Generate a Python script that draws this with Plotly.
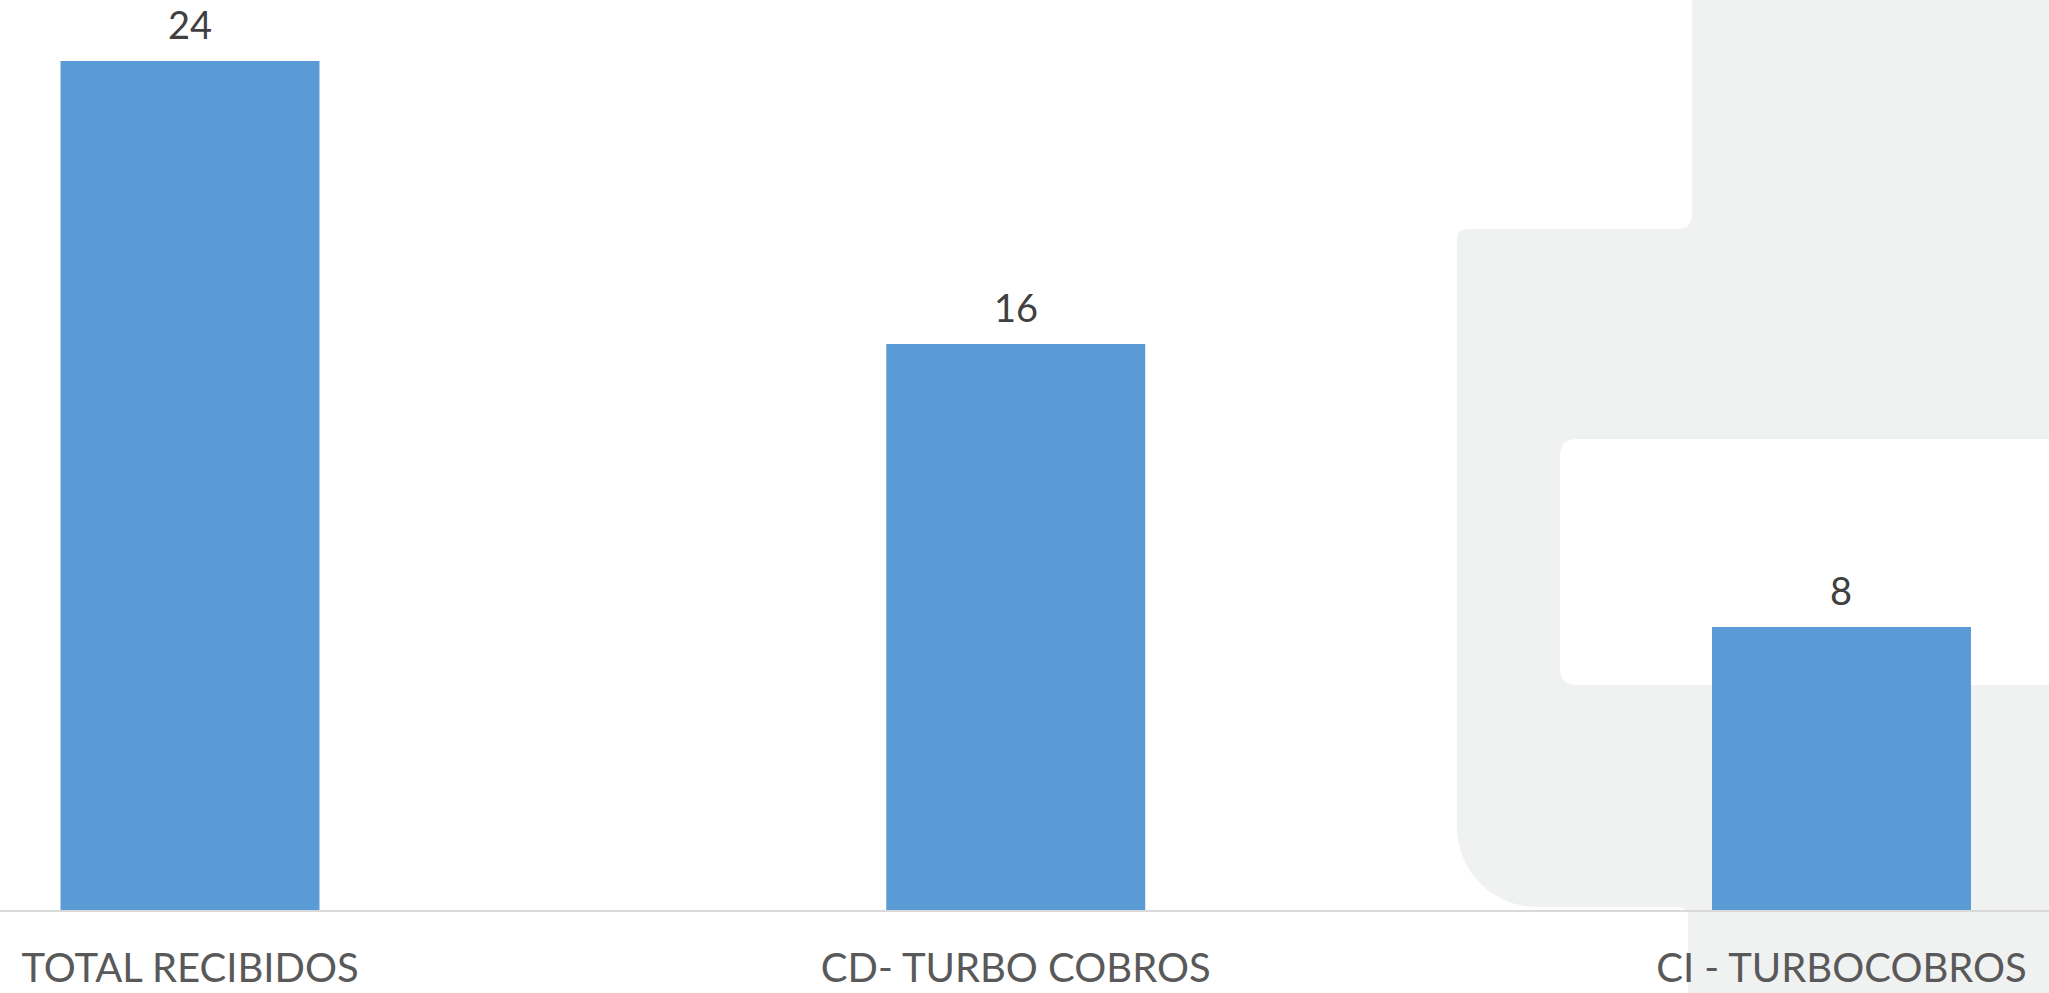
import plotly.graph_objects as go

categories = ["TOTAL RECIBIDOS", "CD- TURBO COBROS", "CI - TURBOCOBROS"]
values = [24, 16, 8]
value_labels = ["24", "16", "8"]

W, H = 2049, 993
PLOT_BOTTOM = 910  # pixel y of axis baseline

BAR_COLOR = "#5B9BD5"
BG_SHAPE = "#F0F1F1"


def px(x, y):
    """pixel -> paper coordinates (plot area spans full width, top 0..PLOT_BOTTOM)"""
    return x / W, (PLOT_BOTTOM - y) / PLOT_BOTTOM


def path(cmds):
    out = []
    for c in cmds:
        op, pts = c[0], c[1:]
        coords = []
        for (x, y) in pts:
            X, Y = px(x, y)
            coords.append(f"{X:.6f},{Y:.6f}")
        out.append(op + " " + " ".join(coords))
    return " ".join(out) + " Z"


outer = path([
    ("M", (1692, -20)),
    ("L", (1692, 214)),
    ("Q", (1692, 229), (1677, 229)),
    ("L", (1468, 229)),
    ("Q", (1457, 229), (1457, 240)),
    ("L", (1457, 827)),
    ("C", (1457, 871), (1493, 907), (1537, 907)),
    ("L", (1678, 907)),
    ("Q", (1688, 907), (1688, 917)),
    ("L", (1688, 1020)),
    ("L", (2100, 1020)),
    ("L", (2100, -20)),
])

inner = path([
    ("M", (2100, 439)),
    ("L", (1577, 439)),
    ("Q", (1560, 439), (1560, 456)),
    ("L", (1560, 668)),
    ("Q", (1560, 685), (1577, 685)),
    ("L", (2100, 685)),
])

fig = go.Figure()
fig.add_trace(go.Bar(
    x=categories,
    y=values,
    marker=dict(color=BAR_COLOR, line=dict(width=0)),
    hoverinfo="skip",
))

for c, v, t in zip(categories, values, value_labels):
    fig.add_annotation(
        x=c, y=v, text=t, showarrow=False,
        xref="x", yref="y", yanchor="bottom", yshift=12,
        font=dict(family="Lato, Open Sans, sans-serif", size=38, color="#404040"),
    )

fig.update_layout(
    width=W, height=H,
    margin=dict(l=0, r=0, t=0, b=H - PLOT_BOTTOM, pad=0),
    paper_bgcolor="white",
    plot_bgcolor="rgba(0,0,0,0)",
    showlegend=False,
    bargap=0.6864,
    shapes=[
        dict(type="path", path=outer, xref="paper", yref="paper",
             fillcolor=BG_SHAPE, line=dict(width=0), layer="below"),
        dict(type="path", path=inner, xref="paper", yref="paper",
             fillcolor="#FFFFFF", line=dict(width=0), layer="below"),
    ],
    xaxis=dict(
        range=[-0.2301, 2.2513],
        showgrid=False, zeroline=False,
        showline=True, linecolor="#D9D9D9", linewidth=2,
        ticks="", ticklabelstandoff=22,
        tickfont=dict(family="Lato, Open Sans, sans-serif", size=40, color="#595959"),
        automargin=False, fixedrange=True,
    ),
    yaxis=dict(
        range=[0, PLOT_BOTTOM / 35.375],
        visible=False, showgrid=False, zeroline=False,
        automargin=False, fixedrange=True,
    ),
)

fig.write_html(
    "out.html",
    config={"displayModeBar": False},
    post_script="document.body.style.margin='0';document.body.style.overflow='hidden';",
)
